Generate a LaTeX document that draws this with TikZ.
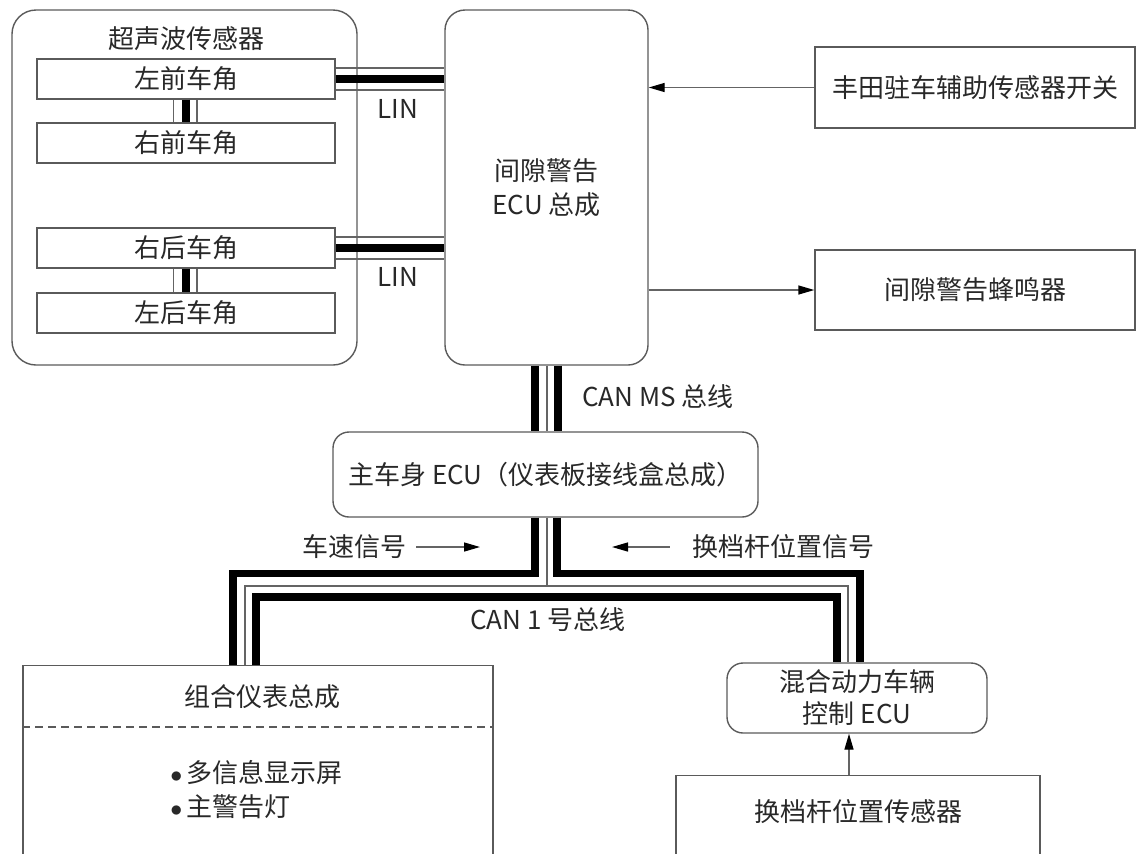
\documentclass[tikz,border=0pt]{standalone}
\usepackage{fontspec}
\setmainfont{Noto Sans CJK SC}
\usetikzlibrary{arrows.meta, positioning, calc}
\definecolor{linegray}{RGB}{90,90,90}
\definecolor{wiregray}{RGB}{100,100,100}
\definecolor{textgray}{RGB}{40,40,40}

\tikzset{
  box/.style={draw=linegray, line width=0.7pt, inner sep=0pt, text=textgray},
  roundbox/.style={box, rounded corners=10pt},
  corner/.style={box, minimum width=149pt, minimum height=20pt},
  infobox/.style={box, minimum width=160pt, minimum height=40pt},
  lbl/.style={text=textgray, inner sep=0pt},
  thinwire/.style={draw=wiregray, line width=0.75pt},
  thickwire/.style={draw=black, line width=3.75pt},
  sig/.style={draw=wiregray, line width=0.7pt, -{Triangle[length=8pt, width=4.5pt, color=black]}}
}

\begin{document}
\begin{tikzpicture}[x=0.5pt, y=-0.5pt, font=\fontsize{13pt}{17pt}\selectfont]
    \useasboundingbox (0,0) rectangle (1140,853);
    \clip (0,0) rectangle (1140,853);

    % ultrasonic sensors
    \node[roundbox, rounded corners=12pt, minimum width=172.5pt, minimum height=177.5pt] (sensors) at (184.5,187.5) {};
    \node[lbl] (sensorstitle) at (186,39) {超声波传感器};
    \node[corner] (fl) at (186,79) {左前车角};
    \node[corner] (fr) at (186,143) {右前车角};
    \node[corner] (rr) at (186,248) {右后车角};
    \node[corner] (rl) at (186,313) {左后车角};

    % clearance warning ECU
    \node[roundbox, minimum width=101.5pt, minimum height=177.5pt, align=center] (ecu) at (546.5,187.5) {间隙警告\\ECU 总成};

    \node[infobox, minimum height=40.5pt] (psw) at (975,87.5) {丰田驻车辅助传感器开关};
    \node[infobox] (buzzer) at (975,290) {间隙警告蜂鸣器};

    \draw[sig] (psw.west) -- (psw.west -| ecu.east);
    \draw[sig] (buzzer.west -| ecu.east) -- (buzzer.west);

    % LIN buses
    \foreach \dy/\w in {5.5pt/thinwire, 0pt/thickwire, -5.5pt/thinwire} {
        \draw[\w] ([yshift=\dy]fl.east) -- ([yshift=\dy]fl.east -| ecu.west);
        \draw[\w] ([yshift=\dy]rr.east) -- ([yshift=\dy]rr.east -| ecu.west);
    }
    \node[lbl] (lin1) at (398,109) {LIN};
    \node[lbl] (lin2) at (398,277) {LIN};

    \foreach \dx/\w in {-6.25pt/thinwire, 0pt/thickwire, 5.5pt/thinwire} {
        \draw[\w] ([xshift=\dx]fl.south) -- ([xshift=\dx]fr.north);
        \draw[\w] ([xshift=\dx]rr.south) -- ([xshift=\dx]rl.north);
    }

    % main body ECU and CAN MS
    \node[roundbox, rounded corners=8pt, minimum width=212.5pt, minimum height=42.5pt] (body) at (545.5,474.5) {主车身 ECU（仪表板接线盒总成）};
    \foreach \dx/\w in {-5.75pt/thickwire, 0.25pt/thinwire, 5.75pt/thickwire}
        \draw[\w] ([xshift=\dx]ecu.south) -- ([xshift=\dx]ecu.south |- body.north);
    \node[lbl] (canms) at (658,397) {CAN MS 总线};

    % bottom units
    \node[box, minimum width=235pt, minimum height=117.5pt, anchor=north] (meter) at (258,665) {};
    \draw[linegray, line width=0.7pt, dash pattern=on 4pt off 2.5pt] ([yshift=-31pt]meter.north west) -- ([yshift=-31pt]meter.north east);
    \node[lbl] (metertitle) at (262,697) {组合仪表总成};
    \node[lbl, anchor=west] (mid) at (170,773) {$\bullet$\,多信息显示屏};
    \node[lbl, anchor=west] (lamp) at (170,807) {$\bullet$\,主警告灯};

    \node[roundbox, rounded corners=8pt, minimum width=130pt, minimum height=35pt, align=center, font=\fontsize{13pt}{16pt}\selectfont] (hv) at (857,698) {混合动力车辆\\控制 ECU};
    \node[box, minimum width=182pt, minimum height=62.5pt, anchor=north] (shift) at (858,775) {};
    \node[lbl] (shifttext) at (858,812) {换档杆位置传感器};
    \draw[sig] ([xshift=-4.5pt]shift.north) -- ([xshift=-4.5pt]shift.north |- hv.south);

    % CAN 1 bus
    \draw[thickwire] ([xshift=-5.25pt]body.south) -- ++(0,56) -| ([xshift=-12.5pt]meter.north);
    \draw[thickwire] ([xshift=5.75pt]body.south) -- ++(0,56) -| ([xshift=1.5pt]hv.north);
    \draw[thinwire] ([xshift=0.75pt]body.south) -- ++(0,69);
    \draw[thinwire] ([xshift=-6.5pt]meter.north) -- ++(0,-79) -| ([xshift=-4.5pt]hv.north);
    \draw[thickwire] ([xshift=-1pt]meter.north) -- ++(0,-68) -| ([xshift=-10pt]hv.north);

    \node[lbl] (can1) at (548,620) {CAN 1 号总线};
    \node[lbl] (speed) at (354,547) {车速信号};
    \coordinate (speedtip) at (480,547);
    \draw[sig] ([xshift=5pt]speed.east) -- (speedtip);
    \node[lbl] (gear) at (783,547) {换档杆位置信号};
    \coordinate (geartip) at (612,547);
    \draw[sig] ([xshift=-11pt]gear.west) -- (geartip);
\end{tikzpicture}
\end{document}
